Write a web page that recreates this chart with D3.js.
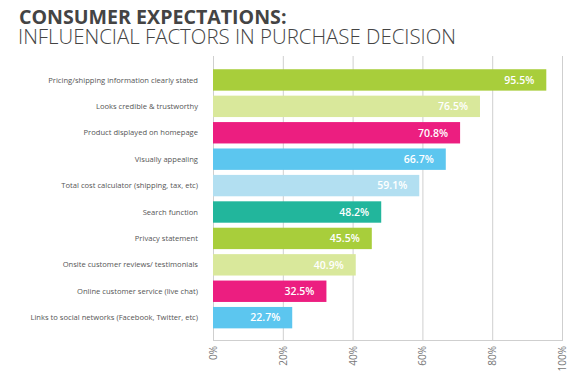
<!DOCTYPE html>
<html>
<head>
<meta charset="utf-8">
<script src="https://cdn.jsdelivr.net/npm/d3@7"></script>
<style>
  body { margin: 0; background: #fff; }
  text { font-family: 'Open Sans', sans-serif; }
</style>
</head>
<body>
<div id="chart"></div>
<script>
const factors = [
  'Pricing/shipping information clearly stated',
  'Looks credible & trustworthy',
  'Product displayed on homepage',
  'Visually appealing',
  'Total cost calculator (shipping, tax, etc)',
  'Search function',
  'Privacy statement',
  'Onsite customer reviews/ testimonials',
  'Online customer service (live chat)',
  'Links to social networks (Facebook, Twitter, etc)'
]
const shares = [95.5, 76.5, 70.8, 66.7, 59.1, 48.2, 45.5, 40.9, 32.5, 22.7]
const barColors = ['#a8ce3b', '#d9e89b', '#ec1e80', '#5cc6ef', '#b2dff1', '#22b69c', '#a8ce3b', '#d9e89b', '#ec1e80', '#5cc6ef']
const ticks = [0, 20, 40, 60, 80, 100]

const width = 569
const height = 377
const margin = { top: 56, left: 213, right: 7, bottom: 37 }

const svg = d3
  .select('#chart')
  .append('svg')
  .attr('width', width)
  .attr('height', height)

// titles
svg.append('text')
  .attr('x', 19).attr('y', 24)
  .attr('font-size', 19.6).attr('font-weight', 700)
  .attr('fill', '#444')
  .text('CONSUMER EXPECTATIONS:')
svg.append('text')
  .attr('x', 18).attr('y', 44)
  .attr('font-size', 20.4).attr('font-weight', 300)
  .attr('fill', '#444')
  .text('INFLUENCIAL FACTORS IN PURCHASE DECISION')

const x = d3.scaleLinear()
  .domain([0, 100])
  .range([margin.left, width - margin.right])

const y = d3.scaleBand()
  .domain(factors)
  .range([66.6, 331])
  .paddingInner(0.19)
  .paddingOuter(0.1)

const baseY = height - margin.bottom

// grid
svg.append('g')
  .selectAll('line')
  .data(ticks)
  .enter()
  .append('line')
  .attr('x1', d => x(d) + 0.5)
  .attr('x2', d => x(d) + 0.5)
  .attr('y1', margin.top)
  .attr('y2', baseY)
  .attr('stroke', '#cfcfcf')
  .attr('stroke-width', 1)

svg.append('line')
  .attr('x1', x(0)).attr('x2', x(100) + 1)
  .attr('y1', baseY + 0.5).attr('y2', baseY + 0.5)
  .attr('stroke', '#cfcfcf')

// tick labels, rotated
svg.append('g')
  .selectAll('text')
  .data(ticks)
  .enter()
  .append('text')
  .attr('transform', d => 'translate(' + (x(d) + 4) + ',' + (baseY + 6) + ') rotate(-90)')
  .attr('text-anchor', 'end')
  .attr('font-size', 10)
  .attr('fill', '#777')
  .text(d => d + '%')

// bars
svg.append('g')
  .selectAll('rect')
  .data(shares)
  .enter()
  .append('rect')
  .attr('x', x(0))
  .attr('y', (d, i) => y(factors[i]))
  .attr('width', d => x(d) - x(0))
  .attr('height', y.bandwidth())
  .attr('fill', (d, i) => barColors[i])

// value labels
svg.append('g')
  .selectAll('text')
  .data(shares)
  .enter()
  .append('text')
  .attr('x', d => x(d) - 12)
  .attr('y', (d, i) => y(factors[i]) + y.bandwidth() / 2)
  .attr('dy', '0.36em')
  .attr('text-anchor', 'end')
  .attr('font-size', 10.5)
  .attr('font-weight', 600)
  .attr('fill', '#fff')
  .text(d => d.toFixed(1) + '%')

// category labels
svg.append('g')
  .selectAll('text')
  .data(factors)
  .enter()
  .append('text')
  .attr('x', 198)
  .attr('y', d => y(d) + y.bandwidth() / 2)
  .attr('dy', '0.35em')
  .attr('text-anchor', 'end')
  .attr('font-size', 7.6)
  .attr('fill', '#555')
  .text(d => d)
</script>
</body>
</html>
